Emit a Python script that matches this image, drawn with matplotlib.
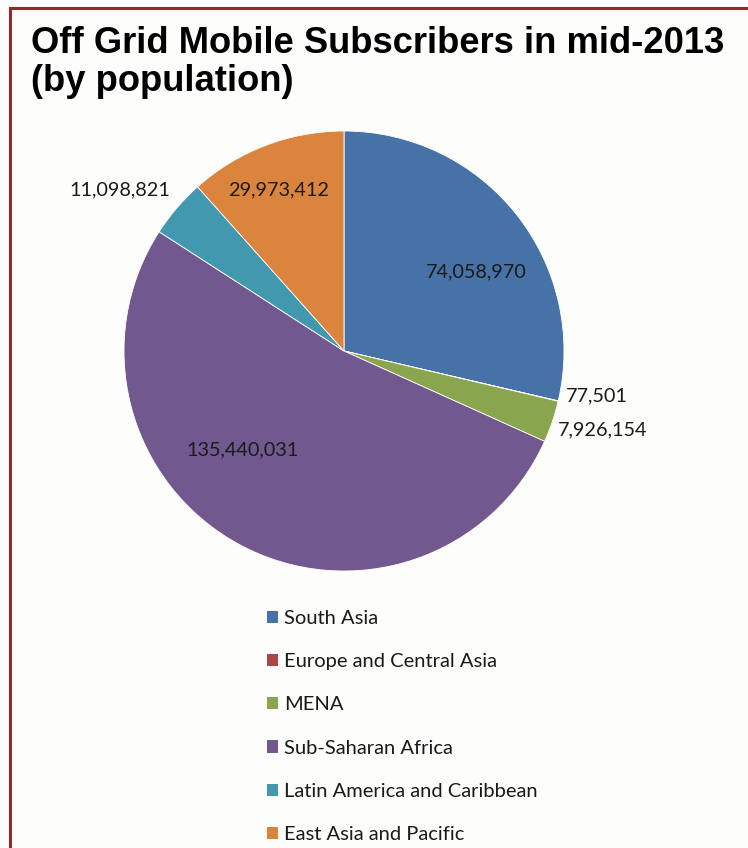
import numpy as np
import matplotlib.pyplot as plt
from matplotlib.lines import Line2D
from matplotlib.patches import Patch

# Off-grid mobile subscribers by region, mid-2013
regions = ["South Asia", "Europe and Central Asia", "MENA",
           "Sub-Saharan Africa", "Latin America and Caribbean",
           "East Asia and Pacific"]
subscribers = [74058970, 77501, 7926154, 135440031, 11098821, 29973412]
colors = ["#4672A8", "#AA4644", "#89A54E", "#71588F", "#4298AF", "#DB843D"]

# label placement: radius (in pie radii), angle nudge from wedge middle, alignment
label_r = [0.70, 1.03, 1.037, 0.643, 1.078, 0.79]
label_nudge = [-7.55, 1.66, -1.57, -17.1, -2.25, 1.44]
label_ha = ["center", "left", "left", "center", "right", "center"]

W, H = 748, 848
fig = plt.figure(figsize=(W / 100, H / 100), dpi=100)
fig.patch.set_facecolor("#FDFDFB")

text_font = ["Lato", "DejaVu Sans"]

# frame lines on the left and top
fig.add_artist(Line2D([10 / W, 10 / W], [0, 1 - 8 / H], transform=fig.transFigure,
                      color="#8B2B2E", lw=2.2))
fig.add_artist(Line2D([10 / W, 1], [1 - 8 / H, 1 - 8 / H], transform=fig.transFigure,
                      color="#8B2B2E", lw=2.2))

fig.text(31 / W, 1 - 26 / H, "Off Grid Mobile Subscribers in mid-2013\n(by population)",
         fontsize=26.2, fontweight="bold", family=["Liberation Sans", "DejaVu Sans"],
         ha="left", va="top", linespacing=1.12, color="black")

cx, cy, r = 344, 351, 220
ax = fig.add_axes([(cx - r) / W, 1 - (cy + r) / H, 2 * r / W, 2 * r / H])
wedges, _ = ax.pie(subscribers, colors=colors, startangle=90, counterclock=False,
                   radius=1, wedgeprops=dict(linewidth=0.6, edgecolor="white"))
ax.set_xlim(-1, 1)
ax.set_ylim(-1, 1)
ax.set_aspect("auto")
ax.axis("off")

for w, val, lr, nudge, ha in zip(wedges, subscribers, label_r, label_nudge, label_ha):
    mid = np.deg2rad((w.theta1 + w.theta2) / 2 + nudge)
    ax.text(lr * np.cos(mid), lr * np.sin(mid), f"{val:,}", ha=ha, va="center",
            fontsize=14.3, family=text_font, color="#1A1A1A", clip_on=False)

handles = [Patch(facecolor=c, edgecolor="none") for c in colors]
leg = fig.legend(handles, regions, loc="upper left",
                 bbox_to_anchor=(259 / W, 1 - 602 / H), frameon=False,
                 prop=dict(family=text_font, size=14.5), labelspacing=1.3,
                 handlelength=0.55, handleheight=0.55, handletextpad=0.3,
                 borderaxespad=0)
for t in leg.get_texts():
    t.set_color("#1A1A1A")

fig.savefig("out.png", dpi=100, facecolor=fig.get_facecolor())
